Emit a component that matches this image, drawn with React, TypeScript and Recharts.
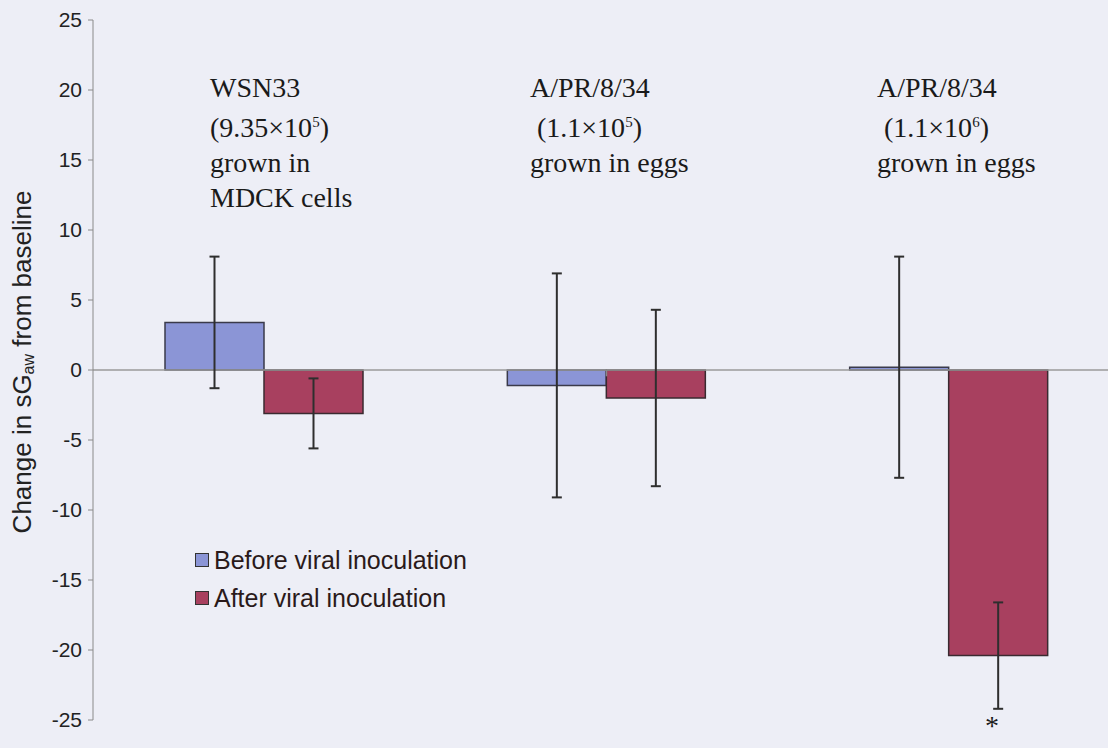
import React from "react";
import {
  Bar,
  BarChart,
  ErrorBar,
  Legend,
  ReferenceLine,
  XAxis,
  YAxis,
} from "recharts";

// virus groups along the x axis
const categories = ["WSN33", "A/PR/8/34 1.1x10^5", "A/PR/8/34 1.1x10^6"];
// change in sGaw from baseline (mean) and error (±)
const beforeValues = [3.4, -1.1, 0.2];
const beforeErrors = [4.7, 8.0, 7.9];
const afterValues = [-3.1, -2.0, -20.4];
const afterErrors = [2.5, 6.3, 3.8];
const yTicks = [-25, -20, -15, -10, -5, 0, 5, 10, 15, 20, 25];
// boundaries between groups (on a 0..n helper axis)
const groupBoundaries = [1, 2];
const legendOrder = ["Before viral inoculation", "After viral inoculation"];

const BLUE = "#8b95d6";
const RED = "#a8405f";
const BG = "#edeef6";

const data = categories.map((name, i) => ({
  name,
  before: beforeValues[i],
  beforeErr: beforeErrors[i],
  after: afterValues[i],
  afterErr: afterErrors[i],
}));

const YLabel = ({ viewBox }: any) => {
  const cx = viewBox.x + 22;
  const cy = viewBox.y + viewBox.height / 2 - 8;
  return (
    <text
      x={cx}
      y={cy}
      transform={`rotate(-90, ${cx}, ${cy})`}
      textAnchor="middle"
      dominantBaseline="central"
      fill="#222"
      fontSize={26}
      fontFamily="'Liberation Sans', Arial, sans-serif"
    >
      Change in sG
      <tspan fontSize={16} dy={6}>
        aw
      </tspan>
      <tspan dy={-6}> from baseline</tspan>
    </text>
  );
};

const renderLegend = (props: any) => {
  const items = [...(props.payload || [])].sort(
    (a: any, b: any) => legendOrder.indexOf(a.value) - legendOrder.indexOf(b.value)
  );
  return (
    <div>
      {items.map((entry: any) => (
        <div
          key={entry.value}
          style={{
            display: "flex",
            alignItems: "center",
            height: 38,
            fontFamily: "'Liberation Sans', Arial, sans-serif",
            fontSize: 25,
            color: "#2a1a1a",
          }}
        >
          <span
            style={{
              display: "inline-block",
              width: 12,
              height: 12,
              background: entry.color,
              border: "1.5px solid #333",
              marginRight: 5,
            }}
          />
          {entry.value}
        </div>
      ))}
    </div>
  );
};

const serif: React.CSSProperties = {
  position: "absolute",
  fontFamily: "'Liberation Serif', 'Times New Roman', serif",
  fontSize: 28,
  lineHeight: "35px",
  color: "#1a1a1a",
  whiteSpace: "nowrap",
};

const sup: React.CSSProperties = { fontSize: 15, verticalAlign: "10px" };

export default function App() {
  return (
    <div
      style={{
        position: "absolute",
        left: 0,
        top: 0,
        width: 1108,
        height: 748,
        overflow: "hidden",
        background: BG,
      }}
    >
      <BarChart
        width={1120}
        height={748}
        data={data}
        margin={{ top: 20, right: 0, bottom: 28, left: 0 }}
        barGap={0}
        barSize={99}
      >
        <XAxis dataKey="name" hide />
        <XAxis xAxisId="num" type="number" domain={[0, 3]} hide />
        <YAxis
          width={93}
          domain={[-25, 25]}
          ticks={yTicks}
          interval={0}
          tickSize={5}
          tickMargin={6}
          stroke="#8a8a8a"
          tick={{
            fill: "#222",
            fontSize: 21,
            fontFamily: "'Liberation Sans', Arial, sans-serif",
          }}
          label={{ content: YLabel }}
        />
        <ReferenceLine y={0} stroke="#9a9a9a" strokeWidth={1.5} />
        {groupBoundaries.map((b) => (
          <ReferenceLine
            key={b}
            xAxisId="num"
            segment={[
              { x: b, y: 0 },
              { x: b, y: -0.45 },
            ]}
            stroke="#8a8a8a"
            strokeWidth={1.5}
          />
        ))}
        <Legend
          layout="vertical"
          align="center"
          verticalAlign="middle"
          content={renderLegend}
          wrapperStyle={{ left: 195, top: 541, width: 340 }}
        />
        <Bar
          dataKey="before"
          name="Before viral inoculation"
          fill={BLUE}
          stroke="#3a3a4a"
          strokeWidth={1.5}
          isAnimationActive={false}
        >
          <ErrorBar dataKey="beforeErr" stroke="#2e2e2e" strokeWidth={2} width={5} />
        </Bar>
        <Bar
          dataKey="after"
          name="After viral inoculation"
          fill={RED}
          stroke="#3a2a30"
          strokeWidth={1.5}
          isAnimationActive={false}
        >
          <ErrorBar dataKey="afterErr" stroke="#2e2e2e" strokeWidth={2} width={5} />
        </Bar>
      </BarChart>

      <div style={{ ...serif, left: 210, top: 70 }}>
        WSN33
        <br />
        (9.35×10<span style={sup}>5</span>)
        <br />
        grown in
        <br />
        MDCK cells
      </div>
      <div style={{ ...serif, left: 530, top: 70 }}>
        A/PR/8/34
        <br />
        &nbsp;(1.1×10<span style={sup}>5</span>)
        <br />
        grown in eggs
      </div>
      <div style={{ ...serif, left: 877, top: 70 }}>
        A/PR/8/34
        <br />
        &nbsp;(1.1×10<span style={sup}>6</span>)
        <br />
        grown in eggs
      </div>
      <div style={{ ...serif, left: 985, top: 708 }}>*</div>
    </div>
  );
}
